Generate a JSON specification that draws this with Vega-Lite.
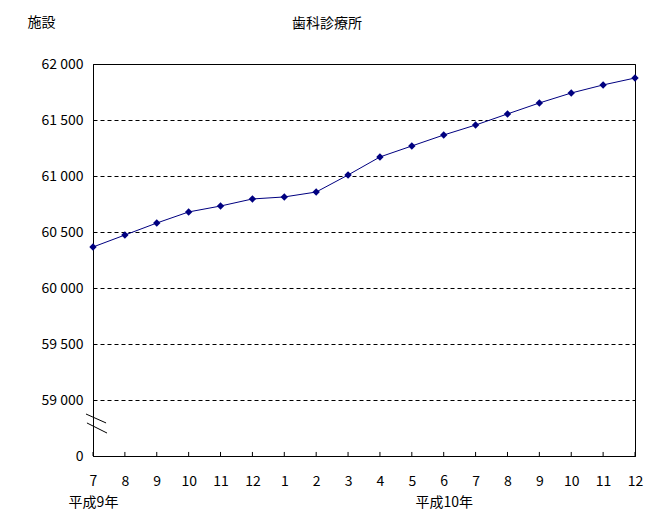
{
  "$schema": "https://vega.github.io/schema/vega-lite/v6.json",
  "width": 542,
  "height": 392,
  "autosize": {"type": "none"},
  "padding": {"left": 93, "top": 64, "right": 22, "bottom": 73},
  "background": "white",
  "config": {
    "view": {"stroke": "black", "strokeWidth": 1},
    "font": "Noto Sans CJK JP",
    "axis": {"labelColor": "black", "titleColor": "black", "domainColor": "black", "tickColor": "black", "labelFontSize": 14, "titleFontSize": 14, "titleFontWeight": "normal"}
  },
  "title": {"text": "歯科診療所", "anchor": "start", "dx": 265, "fontSize": 14, "fontWeight": "normal", "baseline": "bottom", "offset": -30, "color": "black"},
  "datasets": {
    "series": [
      {"key": "H9-7", "value": 60366},
      {"key": "H9-8", "value": 60473},
      {"key": "H9-9", "value": 60580},
      {"key": "H9-10", "value": 60679},
      {"key": "H9-11", "value": 60732},
      {"key": "H9-12", "value": 60795},
      {"key": "H10-1", "value": 60813},
      {"key": "H10-2", "value": 60857},
      {"key": "H10-3", "value": 61009},
      {"key": "H10-4", "value": 61170},
      {"key": "H10-5", "value": 61268},
      {"key": "H10-6", "value": 61366},
      {"key": "H10-7", "value": 61455},
      {"key": "H10-8", "value": 61554},
      {"key": "H10-9", "value": 61652},
      {"key": "H10-10", "value": 61741},
      {"key": "H10-11", "value": 61813},
      {"key": "H10-12", "value": 61875}
    ],
    "breaks": [
      {"bx1": -0.22, "bx2": 0.41, "by1": 58875, "by2": 58795},
      {"bx1": -0.19, "bx2": 0.44, "by1": 58795, "by2": 58705}
    ]
  },
  "layer": [
    {
      "data": {"name": "series"},
      "layer": [
        {"mark": {"type": "rule", "color": "black", "strokeWidth": 1}, "encoding": {"y": {"datum": 58500, "type": "quantitative"}, "y2": {"datum": 58536}}},
        {"mark": {"type": "line", "color": "#000080", "strokeWidth": 1}},
        {"mark": {"type": "point", "shape": "diamond", "filled": true, "color": "#000080", "size": 55, "opacity": 1}}
      ],
      "encoding": {
        "x": {
          "field": "key", "type": "ordinal", "sort": null,
          "scale": {"type": "point", "padding": 0},
          "axis": {
            "title": null, "labelAngle": 0, "grid": false, "ticks": false, "labelPadding": 18,
            "labelBaseline": "top", "labelLineHeight": 21,
            "labelExpr": "datum.value == 'H9-7' ? ['7', '平成9年'] : datum.value == 'H10-6' ? ['6', '平成10年'] : split(datum.value, '-')[1]"
          }
        },
        "y": {
          "field": "value", "type": "quantitative",
          "scale": {"domain": [58500, 62000], "nice": false, "zero": false},
          "axis": {
            "title": "施設", "titleAngle": 0, "titleX": -66, "titleY": -42, "titleAlign": "left", "titleBaseline": "middle",
            "values": [58500, 59000, 59500, 60000, 60500, 61000, 61500, 62000],
            "labelExpr": "datum.value == 58500 ? '0' : replace(format(datum.value, ','), ',', ' ')",
            "ticks": false, "labelPadding": 10,
            "grid": true, "gridColor": "black", "gridDash": [4, 3], "gridOpacity": 1
          }
        }
      }
    },
    {
      "data": {"name": "breaks"},
      "mark": {"type": "rule", "color": "black", "strokeWidth": 1},
      "encoding": {
        "x": {"field": "bx1", "type": "quantitative", "scale": {"domain": [0, 17], "nice": false, "zero": false}, "axis": null},
        "x2": {"field": "bx2"},
        "y": {"field": "by1", "type": "quantitative", "scale": {"domain": [58500, 62000], "nice": false, "zero": false}},
        "y2": {"field": "by2"}
      }
    }
  ],
  "resolve": {"scale": {"x": "independent"}, "axis": {"x": "independent"}}
}
